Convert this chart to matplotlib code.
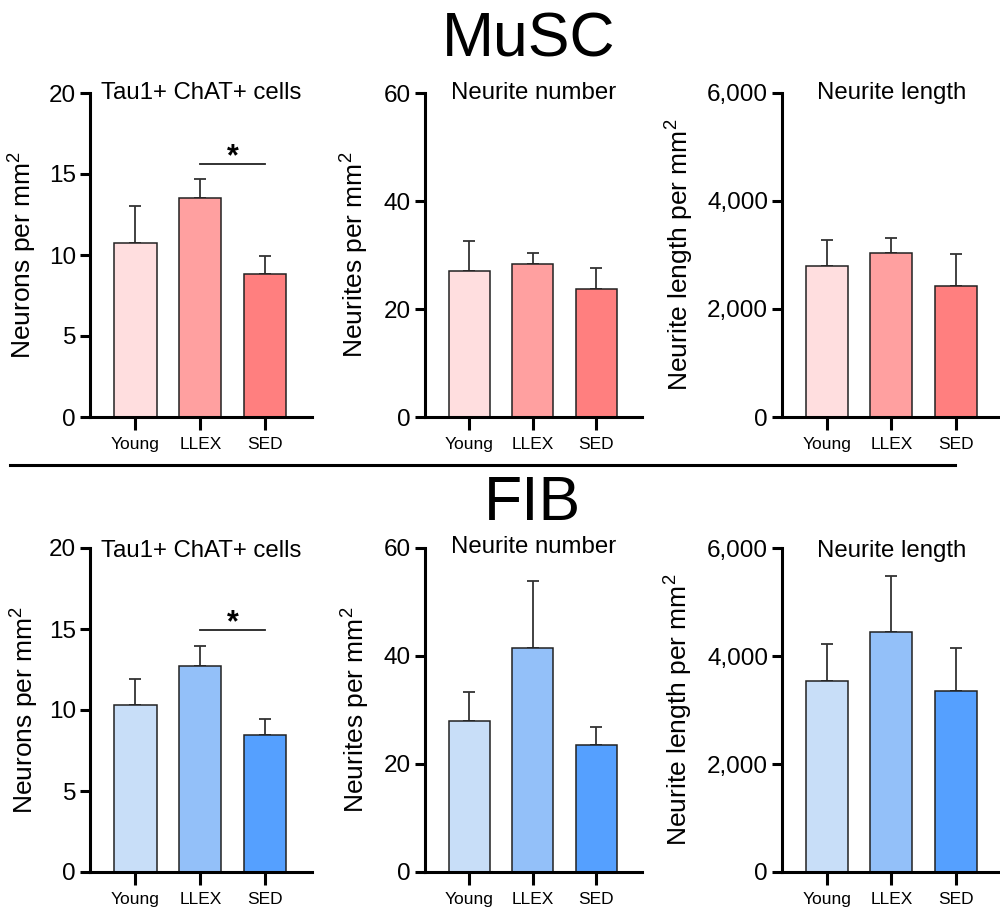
import matplotlib
matplotlib.use('Agg')
import matplotlib.pyplot as plt
from matplotlib.lines import Line2D
from matplotlib.ticker import FuncFormatter

plt.rcParams['font.family'] = ['Liberation Sans', 'DejaVu Sans']
plt.rcParams['mathtext.fontset'] = 'custom'
plt.rcParams['mathtext.rm'] = 'Liberation Sans'
plt.rcParams['mathtext.it'] = 'Liberation Sans:italic'

groups = ['Young', 'LLEX', 'SED']

# MuSC row
musc_neurons = [10.76, 13.5, 8.83]
musc_neurons_err = [2.28, 1.2, 1.11]
musc_neurites = [27.1, 28.4, 23.7]
musc_neurites_err = [5.5, 2.0, 3.8]
musc_length = [2793, 3040, 2435]
musc_length_err = [482, 272, 575]

# FIB row
fib_neurons = [10.31, 12.72, 8.45]
fib_neurons_err = [1.59, 1.2, 0.97]
fib_neurites = [27.96, 41.56, 23.5]
fib_neurites_err = [5.44, 12.24, 3.3]
fib_length = [3544, 4453, 3353]
fib_length_err = [675, 1020, 791]

red = ['#ffdedf', '#ffa0a0', '#ff7f7f']
blue = ['#c8def8', '#93c0f9', '#55a0ff']

titles = ['Tau1+ ChAT+ cells', 'Neurite number', 'Neurite length']
ylabels = ['Neurons per mm$^2$', 'Neurites per mm$^2$', 'Neurite length per mm$^2$']
yticks = [[0, 5, 10, 15, 20], [0, 20, 40, 60], [0, 2000, 4000, 6000]]

W, H = 1000, 913
fig = plt.figure(figsize=(W / 100, H / 100), dpi=100)


def px_axes(l, r, t, b):
    return fig.add_axes([l / W, 1 - b / H, (r - l) / W, (b - t) / H])


def panel(ax, vals, errs, colors, title, ylabel, ticks, lab_x, title_off, sig=None):
    x = range(len(groups))
    ax.bar(x, vals, width=0.65, color=colors, edgecolor='#222222', linewidth=1.1, zorder=2)
    ax.errorbar(x, vals, yerr=[[0] * len(vals), errs], fmt='none', ecolor='#333333',
                elinewidth=1.3, capsize=4.5, capthick=1.3, zorder=1)
    ax.set_xlim(-0.7, 2.72)
    ax.set_ylim(ticks[0], ticks[-1])
    ax.set_yticks(ticks)
    ax.yaxis.set_major_formatter(FuncFormatter(lambda v, p: '{:,.0f}'.format(v)))
    ax.set_xticks(list(x))
    ax.set_xticklabels(groups, fontsize=12.5)
    for s in ['top', 'right']:
        ax.spines[s].set_visible(False)
    for s in ['left', 'bottom']:
        ax.spines[s].set_linewidth(2.2)
    ax.tick_params(axis='y', width=2.2, length=7, labelsize=17.5, pad=3)
    ax.tick_params(axis='x', width=2.2, length=9, pad=5.5)
    ax.set_ylabel(ylabel, fontsize=19, va='center')
    ax.yaxis.set_label_coords(lab_x, 0.5)
    ax.annotate(title, xy=(0.5, 1.0), xycoords='axes fraction', xytext=(0, title_off),
                textcoords='offset points', ha='center', va='baseline', fontsize=17.3)
    if sig is not None:
        ax.plot([1, 2], [sig, sig], color='#222222', lw=1.3, clip_on=False)
        ax.annotate('*', xy=(1.5, sig), xytext=(0, -6), textcoords='offset points',
                    ha='center', va='bottom', fontsize=22, fontweight='bold')


top_row = [(90, 312), (425, 642), (782, 1002)]
lab_top = [-0.302, -0.323, -0.464]
lab_bot = [-0.293, -0.318, -0.468]

musc = [(musc_neurons, musc_neurons_err), (musc_neurites, musc_neurites_err),
        (musc_length, musc_length_err)]
fib = [(fib_neurons, fib_neurons_err), (fib_neurites, fib_neurites_err),
       (fib_length, fib_length_err)]

for i, (l, r) in enumerate(top_row):
    ax = px_axes(l, r, 93, 417)
    panel(ax, musc[i][0], musc[i][1], red, titles[i], ylabels[i], yticks[i],
          lab_top[i], -4.5, sig=15.6 if i == 0 else None)
    ax = px_axes(l, r, 548, 872)
    offs = [-6.5, -3.5, -6.5]
    panel(ax, fib[i][0], fib[i][1], blue, titles[i], ylabels[i], yticks[i],
          lab_bot[i], offs[i], sig=14.95 if i == 0 else None)

fig.text(0.529, 1 - 40 / H, 'MuSC', ha='center', va='center', fontsize=45)
fig.text(0.532, 1 - 503 / H, 'FIB', ha='center', va='center', fontsize=45)
fig.add_artist(Line2D([10 / W, 955 / W], [1 - 465 / H, 1 - 465 / H], color='black', lw=2.2))

fig.savefig('out.png', dpi=100)
